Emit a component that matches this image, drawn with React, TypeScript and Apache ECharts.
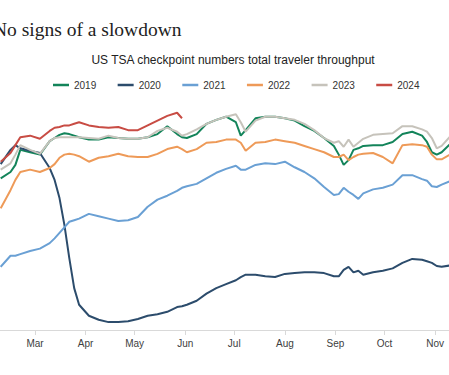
import React, { useEffect, useRef } from "react";
import * as echarts from "echarts";

// Sample dates (month-day), shared by all years, plotted on a common calendar
const DATES = [
  "02-08", "02-14", "02-17", "02-20", "02-26",
  "03-04", "03-10", "03-13", "03-16", "03-19", "03-22", "03-25", "03-28",
  "04-03", "04-09", "04-15", "04-21", "04-27",
  "05-03", "05-09", "05-15", "05-21", "05-27", "05-30",
  "06-02", "06-08", "06-14", "06-20", "06-26",
  "07-02", "07-05", "07-08", "07-14", "07-20", "07-26",
  "08-01", "08-07", "08-13", "08-19", "08-25", "08-31",
  "09-03", "09-06", "09-09", "09-12", "09-15", "09-18", "09-24", "09-30",
  "10-06", "10-12", "10-18", "10-24", "10-27", "10-30",
  "11-02", "11-05", "11-11",
];

// 7-day average travelers, millions
const Y2019 = [
  1.92, 2.0, 2.09, 2.28, 2.25, 2.22, 2.39, 2.43, 2.47, 2.49, 2.48, 2.46, 2.44, 2.41, 2.41, 2.44, 2.43, 2.42, 2.42, 2.44,
  2.48, 2.58, 2.48, 2.44, 2.43, 2.48, 2.61, 2.66, 2.7, 2.63,
  2.46, 2.53, 2.68, 2.7, 2.7, 2.68, 2.65, 2.58, 2.52, 2.43,
  2.33, 2.22, 2.09, 2.15, 2.28, 2.3, 2.33, 2.34, 2.34, 2.38,
  2.48, 2.51, 2.46, 2.38, 2.25, 2.22, 2.25, 2.37,
];
const Y2020 = [
  2.1, 2.28, 2.34, 2.3, 2.27, 2.24, 2.05, 1.9, 1.67, 1.33, 0.91, 0.53, 0.32, 0.18, 0.13, 0.1, 0.1, 0.11, 0.14, 0.18,
  0.2, 0.23, 0.29, 0.3, 0.32, 0.37, 0.46, 0.53, 0.58, 0.63,
  0.67, 0.7, 0.7, 0.68, 0.67, 0.71, 0.72, 0.73, 0.73, 0.72,
  0.68, 0.68, 0.76, 0.8, 0.73, 0.75, 0.7, 0.73, 0.75, 0.78,
  0.85, 0.9, 0.89, 0.87, 0.85, 0.81, 0.8, 0.82,
];
const Y2021 = [
  0.8, 0.94, 0.94, 0.96, 1.0, 1.03, 1.1, 1.16, 1.23, 1.3, 1.37, 1.39, 1.41, 1.47, 1.44, 1.41, 1.38, 1.39, 1.43, 1.56,
  1.65, 1.7, 1.76, 1.8, 1.82, 1.85, 1.92, 1.99, 2.04, 2.08,
  2.03, 2.03, 2.09, 2.11, 2.1, 2.13, 2.06, 2.0, 1.92, 1.81,
  1.71, 1.72, 1.8, 1.75, 1.71, 1.66, 1.73, 1.78, 1.8, 1.84,
  1.96, 1.96, 1.91, 1.89, 1.82, 1.81, 1.84, 1.89,
];
const Y2022 = [
  1.54, 1.77, 1.9, 2.0, 2.03, 2.0, 2.05, 2.1, 2.18, 2.22, 2.23, 2.22, 2.2, 2.13, 2.18, 2.2, 2.23, 2.2, 2.19, 2.19,
  2.23, 2.29, 2.32, 2.29, 2.25, 2.29, 2.37, 2.38, 2.41, 2.41,
  2.37, 2.27, 2.37, 2.38, 2.41, 2.39, 2.37, 2.33, 2.29, 2.25,
  2.19, 2.19, 2.22, 2.15, 2.19, 2.22, 2.23, 2.24, 2.19, 2.11,
  2.34, 2.35, 2.34, 2.32, 2.22, 2.16, 2.16, 2.23,
];
const Y2023 = [
  2.03, 2.11, 2.22, 2.34, 2.28, 2.23, 2.39, 2.43, 2.44, 2.44, 2.44, 2.44, 2.44, 2.43, 2.42, 2.46, 2.43, 2.42, 2.42, 2.44,
  2.52, 2.56, 2.51, 2.46, 2.48, 2.54, 2.61, 2.66, 2.7, 2.73,
  2.63, 2.51, 2.65, 2.7, 2.7, 2.68, 2.66, 2.61, 2.53, 2.43,
  2.37, 2.39, 2.32, 2.41, 2.32, 2.37, 2.42, 2.47, 2.48, 2.49,
  2.58, 2.58, 2.54, 2.51, 2.43, 2.3, 2.33, 2.47,
];
const Y2024 = [
  2.13, 2.24, 2.34, 2.44, 2.46, 2.42, 2.52, 2.56, 2.57, 2.59, 2.59, 2.61, 2.63, 2.59, 2.57, 2.56, 2.57, 2.53, 2.53, 2.59,
  2.65, 2.71, 2.75, 2.68,
];

const YEARS = ["2019", "2020", "2021", "2022", "2023", "2024"];
const VALUES = [Y2019, Y2020, Y2021, Y2022, Y2023, Y2024];
const COLORS = ["#13845a", "#2c4c6c", "#6aa0d4", "#ee9a58", "#c6c3bb", "#c84c44"];
const MONTHS = ["Jan", "Feb", "Mar", "Apr", "May", "Jun", "Jul", "Aug", "Sep", "Oct", "Nov", "Dec"];

const TITLE = "No signs of a slowdown";
const SUBTITLE = "US TSA checkpoint numbers total traveler throughput";

const toTs = (md: string) => {
  const [m, d] = md.split("-").map(Number);
  return Date.UTC(2019, m - 1, d);
};

export default function App() {
  const ref = useRef<HTMLDivElement>(null);
  useEffect(() => {
    if (!ref.current) return;
    const chart = echarts.init(ref.current, undefined, { renderer: "svg" });
    const DAY = 864e5;
    chart.setOption({
      animation: false,
      useUTC: true,
      backgroundColor: "#ffffff",
      title: [
        {
          text: TITLE,
          left: -7,
          top: 19,
          padding: 0,
          textStyle: {
            fontFamily: "Liberation Serif, serif",
            fontWeight: "normal",
            fontSize: 19.5,
            color: "#222222",
          },
        },
        {
          text: SUBTITLE,
          left: 233,
          textAlign: "center",
          top: 54,
          padding: 0,
          textStyle: {
            fontFamily: "Liberation Sans, Arial, sans-serif",
            fontWeight: "normal",
            fontSize: 12,
            color: "#222222",
          },
        },
      ],
      legend: {
        data: YEARS,
        left: 53,
        top: 80,
        padding: 0,
        icon: "rect",
        itemWidth: 16,
        itemHeight: 2.5,
        itemGap: 21.4,
        textStyle: {
          fontFamily: "Liberation Sans, Arial, sans-serif",
          fontSize: 10,
          color: "#333333",
        },
      },
      grid: { left: 0, right: 0, top: 93, bottom: 45, containLabel: false },
      xAxis: {
        type: "time",
        min: Date.UTC(2019, 1, 7, 13, 40),
        max: Date.UTC(2019, 10, 9, 12),
        minInterval: 28 * DAY,
        maxInterval: 31 * DAY,
        axisLine: { show: true, lineStyle: { color: "#d9d9d9", width: 1 } },
        axisTick: { show: true, length: 5, lineStyle: { color: "#d9d9d9" } },
        splitLine: { show: false },
        axisLabel: {
          color: "#404040",
          fontSize: 10,
          fontFamily: "Liberation Sans, Arial, sans-serif",
          margin: 8,
          formatter: (v: number) => MONTHS[new Date(v).getUTCMonth()],
        },
      },
      yAxis: { type: "value", min: 0, max: 3, show: false },
      series: YEARS.map((name, k) => ({
        name,
        type: "line",
        showSymbol: false,
        symbol: "none",
        color: COLORS[k],
        lineStyle: { width: 2, color: COLORS[k] },
        data: VALUES[k].map((v, i) => [toTs(DATES[i]), v]),
      })),
    });
    return () => chart.dispose();
  }, []);
  return (
    <div
      ref={ref}
      style={{ position: "fixed", left: 0, top: 0, width: 449, height: 375, background: "#fff" }}
    />
  );
}
